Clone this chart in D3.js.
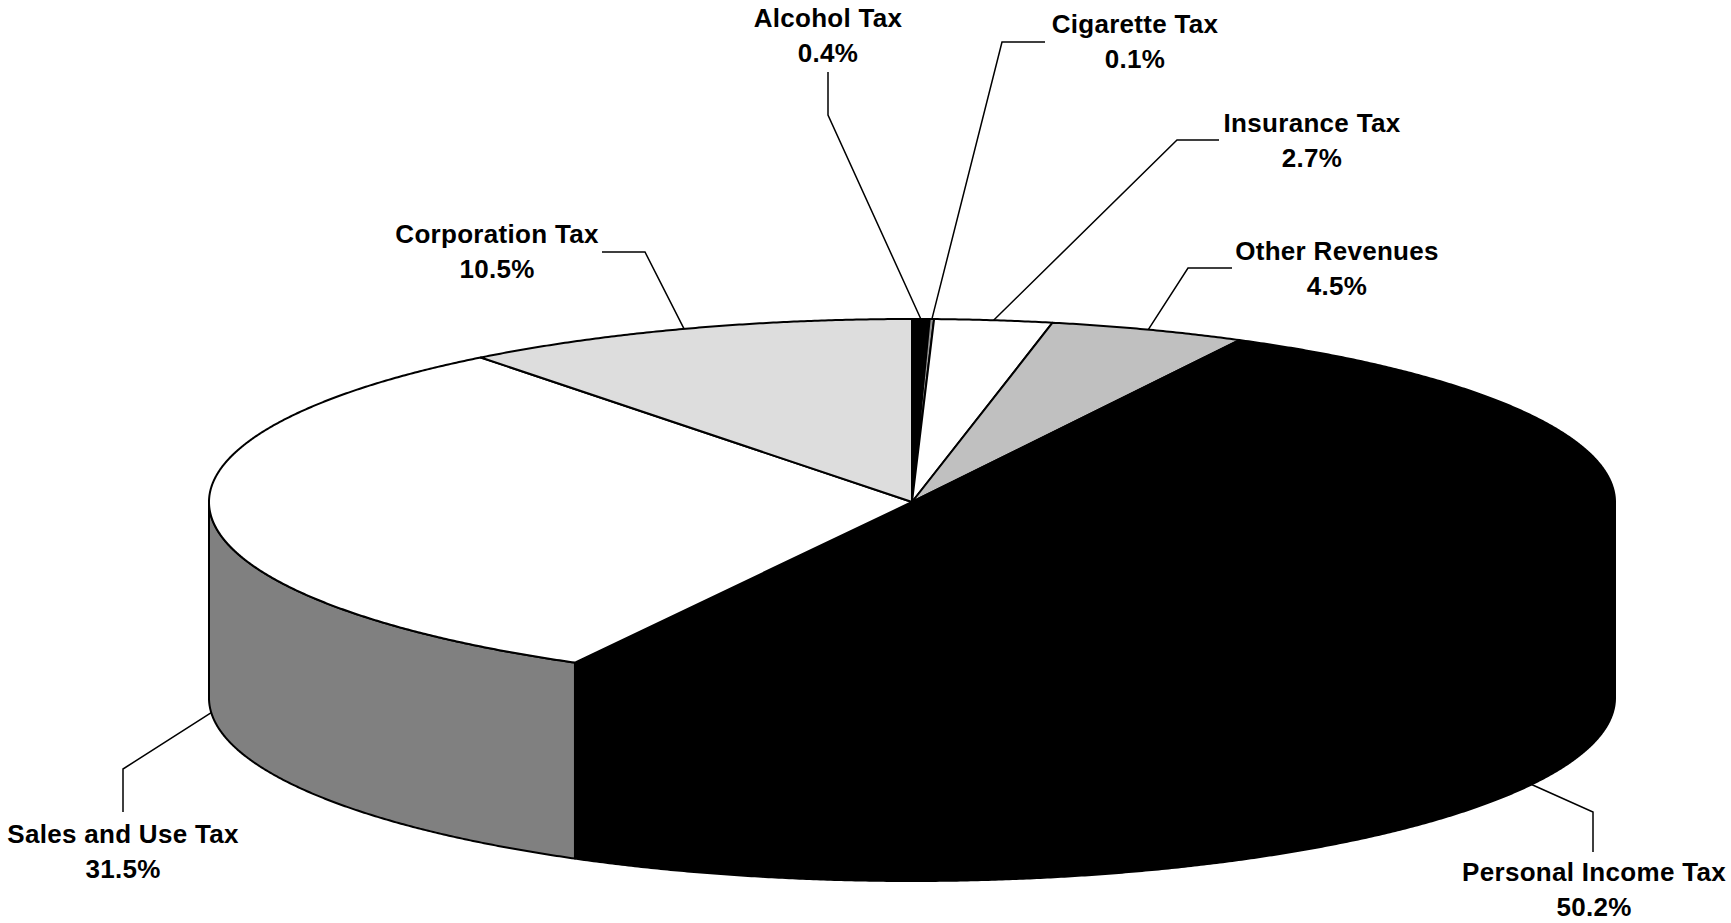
<!DOCTYPE html>
<html>
<head>
<meta charset="utf-8">
<script src="https://cdnjs.cloudflare.com/ajax/libs/d3/7.8.5/d3.min.js"></script>
<style>
  body { margin: 0; background: #fff; }
  text { font-family: "Liberation Sans", Arial, sans-serif; font-weight: bold; font-size: 26px; fill: #000; letter-spacing: 0.3px; }
</style>
</head>
<body>
<div id="chart"></div>
<script>
// revenue shares, clockwise from 12 o'clock
var categories = ["Alcohol Tax", "Cigarette Tax", "Insurance Tax", "Other Revenues",
                  "Personal Income Tax", "Sales and Use Tax", "Corporation Tax"];
var shares = [0.4, 0.1, 2.7, 4.5, 50.2, 31.5, 10.5];
var shareLabels = ["0.4%", "0.1%", "2.7%", "4.5%", "50.2%", "31.5%", "10.5%"];

var topColors = ["#000000", "#969696", "#ffffff", "#c0c0c0", "#000000", "#ffffff", "#dddddd"];
var sideColors = ["#000000", "#4b4b4b", "#808080", "#606060", "#000000", "#808080", "#6e6e6e"];

// label layout: text centre x, first baseline y, elbow x/y, end x/y, rim the leader starts from
var labelPos = [
  [828, 27, 828, 115, 828, 72, "top"],
  [1135, 33, 1002, 42, 1045, 42, "top"],
  [1312, 132, 1177, 140, 1219, 140, "top"],
  [1337, 260, 1188, 268, 1232, 268, "top"],
  [1594, 881, 1593, 812, 1593, 852, "bottom"],
  [123, 843, 123, 769, 123, 812, "bottom"],
  [497, 243, 645, 252, 602, 252, "top"]
];

var width = 1731;
var height = 923;
var cx = 912, cy = 502, rx = 703, ry = 183, depth = 196;

var svg = d3.select("#chart").append("svg")
            .attr("width", width)
            .attr("height", height)
            .style("background", "#fff");

var pie = d3.pie().sort(null).value(function(d) { return d; });
var slices = pie(shares);

function rim(a, dy) {
  return [cx + rx * Math.sin(a), cy + dy - ry * Math.cos(a)];
}

function arcPts(a0, a1, dy) {
  var n = Math.max(2, Math.ceil(Math.abs(a1 - a0) / 0.005));
  return d3.range(n + 1).map(function(i) { return rim(a0 + (a1 - a0) * i / n, dy); });
}

var closedLine = d3.line().curve(d3.curveLinearClosed);
var openLine = d3.line();

/* side walls, only the front half shows */
slices.forEach(function(s, i) {
  var a0 = Math.max(s.startAngle, Math.PI / 2);
  var a1 = Math.min(s.endAngle, Math.PI * 3 / 2);
  if (a0 >= a1) return;
  var pts = arcPts(a0, a1, 0).concat(arcPts(a1, a0, depth));
  svg.append("path")
     .attr("d", closedLine(pts))
     .attr("fill", sideColors[i])
     .attr("stroke", "#000")
     .attr("stroke-width", 2)
     .attr("stroke-linejoin", "round");
});

/* top faces */
svg.selectAll("path.top")
   .data(slices)
   .enter()
   .append("path")
   .attr("class", "top")
   .attr("d", function(s) { return closedLine([[cx, cy]].concat(arcPts(s.startAngle, s.endAngle, 0))); })
   .attr("fill", function(s, i) { return topColors[i]; })
   .attr("stroke", "#000")
   .attr("stroke-width", 2)
   .attr("stroke-linejoin", "round");

/* leader lines */
svg.selectAll("path.leader")
   .data(slices)
   .enter()
   .append("path")
   .attr("class", "leader")
   .attr("d", function(s, i) {
     var p = labelPos[i];
     var mid = (s.startAngle + s.endAngle) / 2;
     var start = rim(mid, p[6] == "top" ? 0 : depth);
     return openLine([start, [p[2], p[3]], [p[4], p[5]]]);
   })
   .attr("fill", "none")
   .attr("stroke", "#000")
   .attr("stroke-width", 1.5);

/* labels */
var lbl = svg.selectAll("text.label")
   .data(categories)
   .enter()
   .append("text")
   .attr("class", "label")
   .attr("text-anchor", "middle")
   .attr("x", function(d, i) { return labelPos[i][0]; })
   .attr("y", function(d, i) { return labelPos[i][1]; });

lbl.append("tspan")
   .attr("x", function(d, i) { return labelPos[i][0]; })
   .text(function(d) { return d; });

lbl.append("tspan")
   .attr("x", function(d, i) { return labelPos[i][0]; })
   .attr("dy", 35)
   .text(function(d, i) { return shareLabels[i]; });
</script>
</body>
</html>
